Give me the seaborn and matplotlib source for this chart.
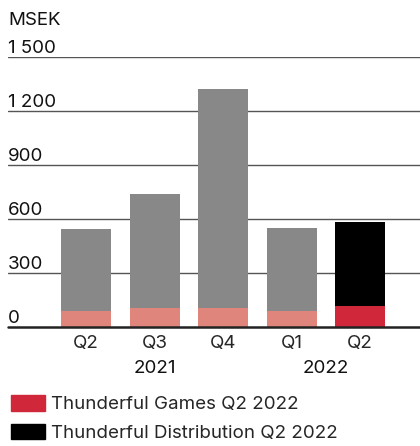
import matplotlib
matplotlib.use('Agg')
import matplotlib.pyplot as plt
import matplotlib.patches as mpatches
import matplotlib.transforms as mtransforms
import seaborn as sns
import pandas as pd

# Chart data (MSEK)
quarters = ['Q2', 'Q3', 'Q4', 'Q1', 'Q2 ']
total_sales = [544, 739, 1322, 550, 583]
games_sales = [89, 106, 106, 89, 117]
total_colors = ['#888888', '#888888', '#888888', '#888888', '#000000']
games_colors = ['#E0857C', '#E0857C', '#E0857C', '#E0857C', '#D0283A']
year_labels = ['2021', '2022']
year_positions = [1, 3.5]
y_ticks = [0, 300, 600, 900, 1200, 1500]
y_tick_labels = ['0', '300', '600', '900', '1 200', '1 500']
legend_labels = ['Thunderful Games Q2 2022', 'Thunderful Distribution Q2 2022']

FS = 13.5

sns.set_style('white')
plt.rcParams['font.family'] = ['Inter', 'DejaVu Sans']
plt.rcParams['font.size'] = FS

df = pd.DataFrame({'quarter': quarters, 'total': total_sales, 'games': games_sales})

fig = plt.figure(figsize=(4.2, 4.46), dpi=100)
ax = fig.add_axes([8 / 420, 119 / 446, 412 / 420, 270 / 446])

# gridlines behind bars
for t in y_ticks[1:]:
    ax.axhline(t, color='#555555', linewidth=1.0, zorder=0)

sns.barplot(data=df, x='quarter', y='total', hue='quarter', palette=total_colors,
            saturation=1, width=0.73, legend=False, ax=ax, zorder=2)
sns.barplot(data=df, x='quarter', y='games', hue='quarter', palette=games_colors,
            saturation=1, width=0.73, legend=False, ax=ax, zorder=3)
for p in ax.patches:
    p.set_edgecolor('none')
    p.set_linewidth(0)

ax.axhline(0, color='#222222', linewidth=1.8, zorder=4, clip_on=False)

ax.set_xlim(-1.139, 4.876)
ax.set_ylim(0, 1500)
ax.set_yticks([])
ax.set_xticks(range(len(quarters)))
ax.set_xticklabels([q.strip() for q in quarters])
ax.tick_params(axis='x', length=0, pad=6, labelsize=FS)
ax.set_xlabel('')
ax.set_ylabel('')
sns.despine(ax=ax, left=True, bottom=True)

# value labels sitting above gridlines
lab_trans = mtransforms.blended_transform_factory(ax.transAxes, ax.transData)
for t, lab in zip(y_ticks, y_tick_labels):
    ax.text(0, t, lab, transform=lab_trans, ha='left', va='bottom',
            fontsize=FS, color='#111111')

ax.text(0, 1.137, 'MSEK', transform=ax.transAxes, ha='left', va='center',
        fontsize=FS, color='#111111')

year_trans = mtransforms.blended_transform_factory(ax.transData, ax.transAxes)
for pos, lab in zip(year_positions, year_labels):
    ax.text(pos, -0.152, lab, transform=year_trans, ha='center', va='center',
            fontsize=FS, color='#111111')

handles = [mpatches.Patch(color='#D0283A'), mpatches.Patch(color='#000000')]
fig.legend(handles, legend_labels, loc='lower left', bbox_to_anchor=(-0.005, -0.02),
           frameon=False, fontsize=FS, handlelength=1.8, handleheight=0.9,
           handletextpad=0.35, labelspacing=0.55, borderaxespad=0.3)

plt.savefig('out.png', dpi=100)
plt.close()
